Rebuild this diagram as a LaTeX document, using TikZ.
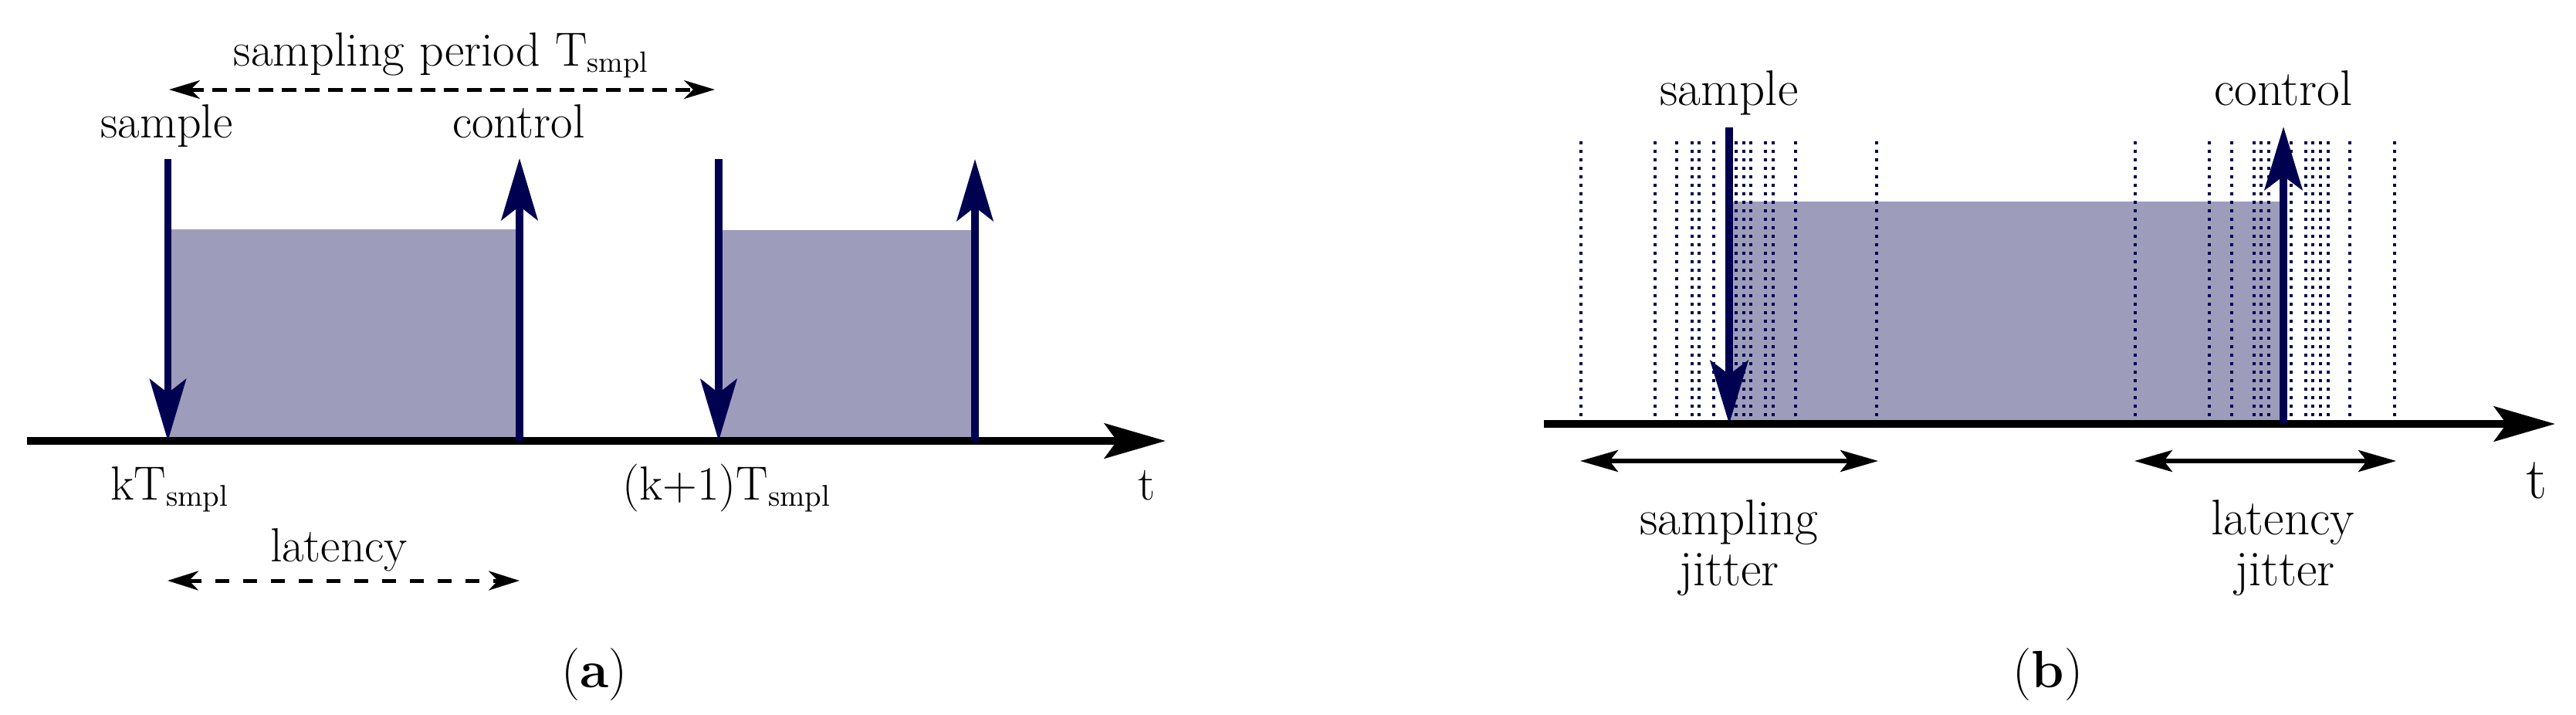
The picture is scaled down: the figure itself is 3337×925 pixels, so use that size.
\documentclass[tikz,border=0pt]{standalone}
\usetikzlibrary{arrows.meta}
\definecolor{navy}{RGB}{0,0,80}
\definecolor{fillgray}{RGB}{157,157,187}
\newcommand{\smplsub}[1]{\raisebox{-2pt}{\fontsize{#1}{#1}\selectfont smpl}}
\begin{document}
\begin{tikzpicture}[x=0.25pt,y=-0.25pt,
  axisline/.style={line width=2.5pt,-{Stealth[length=19.75pt,width=11.25pt,inset=4pt]}},
  evt/.style={navy,line width=2.3pt,-{Stealth[length=20pt,width=11.75pt,inset=4.5pt]}},
  evtb/.style={navy,line width=2.5pt,-{Stealth[length=20.5pt,width=12.25pt,inset=4.5pt]}},
  dimarrow/.style={line width=1.25pt,dash pattern=on 4.75pt off 2.75pt,
    {Stealth[length=10pt,width=6pt,inset=3pt]}-{Stealth[length=10pt,width=6pt,inset=3pt]}},
  latarrow/.style={line width=1.25pt,dash pattern=on 4.5pt off 4.5pt,
    {Stealth[length=10pt,width=6.25pt,inset=3pt]}-{Stealth[length=10pt,width=6.25pt,inset=3pt]}},
  jitarrow/.style={line width=1.3pt,
    {Stealth[length=12.25pt,width=7pt,inset=2.75pt]}-{Stealth[length=12.25pt,width=7pt,inset=2.75pt]}},
  jitline/.style={navy,line width=1pt,dash pattern=on 1pt off 1.75pt},
  lbla/.style={inner sep=0pt,font=\fontsize{15.5}{18}\selectfont},
  lblb/.style={inner sep=0pt,font=\fontsize{16.2}{19}\selectfont},
  capt/.style={inner sep=0pt,anchor=base,font=\fontsize{17}{20}\selectfont}]
\useasboundingbox (0,0) rectangle (3337,925);

% ---------------- (a) ----------------
\fill[fillgray] (217,297) rectangle (673,571);
\fill[fillgray] (931,298) rectangle (1263,571);
\coordinate (ax0) at (35,571);
\coordinate (ax1) at (1510,571);
\draw[axisline] (ax0) -- (ax1);

\coordinate (s1t) at (217.5,206); \coordinate (s1b) at (217.5,571);
\coordinate (c1t) at (673,205);   \coordinate (c1b) at (673,571);
\coordinate (s2t) at (931,206);   \coordinate (s2b) at (931,571);
\coordinate (c2t) at (1263,206);  \coordinate (c2b) at (1263,571);
\draw[evt] (s1t) -- (s1b);
\draw[evt] (c1b) -- (c1t);
\draw[evt] (s2t) -- (s2b);
\draw[evt] (c2b) -- (c2t);

\coordinate (p0) at (219,116); \coordinate (p1) at (926,116);
\draw[dimarrow] (p0) -- (p1);
\coordinate (l0) at (217,752); \coordinate (l1) at (673,752);
\draw[latarrow] (l0) -- (l1);

\node[lbla,anchor=base] (period) at (571,85) {sampling period T\smplsub{9.5}};
\node[lbla,anchor=base] (samplea) at (216,178) {sample};
\node[lbla,anchor=base] (controla) at (672,178) {control};
\node[lbla,anchor=base west] (kT) at (143,647) {kT\smplsub{9.7}};
\node[lbla,anchor=base west] (k1T) at (806,647) {(k+1)T\smplsub{9.7}};
\node[lbla,anchor=base west] (ta) at (1474,647) {t};
\node[lbla,anchor=base] (latency) at (439,727) {latency};
\node[capt] (capa) at (770,890) {(\textbf{a})};

% ---------------- (b) ----------------
\fill[fillgray] (2240,261) rectangle (2958,549);
\foreach \x in {2048,2144,2172,2192,2201,2220,2249,2259,2268,2287,2297,2326,2431,
                2766,2862,2891,2920,2929,2939,2968,2987,2996,3006,3016,3044,3102}
  \draw[jitline] (\x,183) -- (\x,549);
\coordinate (bx0) at (2000,549);
\coordinate (bx1) at (3310,549);
\draw[axisline] (bx0) -- (bx1);
\coordinate (sbt) at (2240,165); \coordinate (sbb) at (2240,549);
\coordinate (cbt) at (2958,164); \coordinate (cbb) at (2958,549);
\draw[evtb] (sbt) -- (sbb);
\draw[evtb] (cbb) -- (cbt);

\coordinate (j0) at (2047,597); \coordinate (j1) at (2433,597);
\draw[jitarrow] (j0) -- (j1);
\coordinate (k0) at (2765,597); \coordinate (k1) at (3104,597);
\draw[jitarrow] (k0) -- (k1);

\node[lblb,anchor=base] (sampleb) at (2240,136) {sample};
\node[lblb,anchor=base] (controlb) at (2958,136) {control};
\node[lblb,anchor=base] (sj1) at (2240,692) {sampling};
\node[lblb,anchor=base] (sj2) at (2240,758) {jitter};
\node[lblb,anchor=base] (lj1) at (2957,692) {latency};
\node[lblb,anchor=base] (lj2) at (2960,758) {jitter};
\node[inner sep=0pt,anchor=base west,font=\fontsize{19}{22}\selectfont] (tb) at (3272,645) {t};
\node[capt] (capb) at (2653,890) {(\textbf{b})};
\end{tikzpicture}
\end{document}
